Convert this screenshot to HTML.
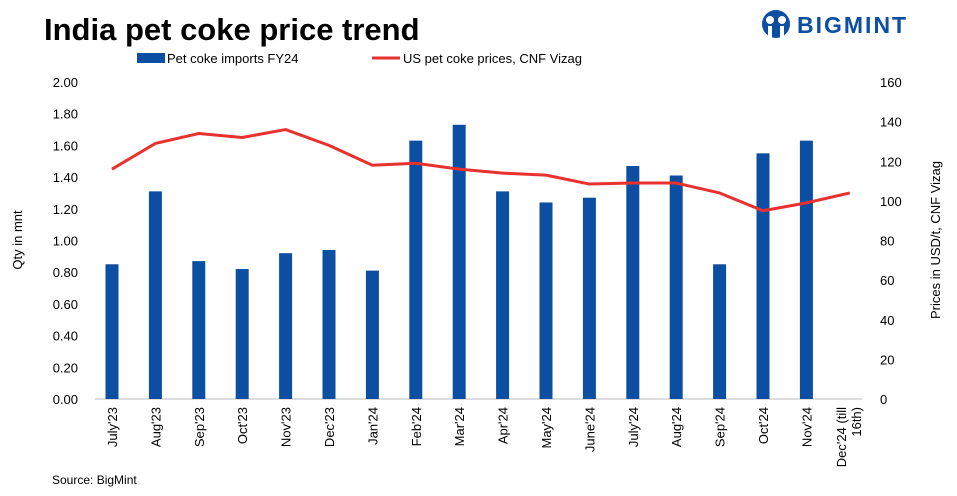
<!DOCTYPE html>
<html><head><meta charset="utf-8">
<style>
body{margin:0;background:#fff;font-family:"Liberation Sans",Arial,sans-serif;}
#wrap{position:relative;width:957px;height:496px;overflow:hidden;}
</style></head>
<body>
<div id="wrap">
<svg id="chart" width="957" height="496" xmlns="http://www.w3.org/2000/svg">
<text x="44" y="40" font-size="31" font-weight="bold" fill="#000">India pet coke price trend</text>
<g>
<circle cx="776" cy="24" r="14" fill="#0b4ea2"/>
<circle cx="770" cy="20" r="4" fill="#fff"/><circle cx="782" cy="20" r="4" fill="#fff"/>
<rect x="768" y="26" width="4" height="13" fill="#fff"/><rect x="780" y="26" width="4" height="13" fill="#fff"/>
<text x="797" y="33" font-size="23" font-weight="bold" fill="#0b4ea2" letter-spacing="2">BIGMINT</text>
</g>
<g>
<rect x="137" y="53" width="28" height="10" fill="#0b4ea2"/>
<text x="167" y="63" font-size="13">Pet coke imports FY24</text>
<line x1="372" y1="58" x2="400" y2="58" stroke="#e8322f" stroke-width="3"/>
<text x="403" y="63" font-size="13">US pet coke prices, CNF Vizag</text>
</g>
<text transform="translate(22,240) rotate(-90)" text-anchor="middle" font-size="13">Qty in mnt</text>
<text transform="translate(940,240) rotate(-90)" text-anchor="middle" font-size="13">Prices in USD/t, CNF Vizag</text>
<g id="axes"></g><g id="bars"></g><g id="line"></g>
<text x="52" y="484" font-size="12">Source: BigMint</text>
</svg>
</div>
<script>
const categories=["July'23","Aug'23","Sep'23","Oct'23","Nov'23","Dec'23","Jan'24","Feb'24","Mar'24","Apr'24","May'24","June'24","July'24","Aug'24","Sep'24","Oct'24","Nov'24","Dec'24 (till 16th)"];
const imports=[0.85,1.31,0.87,0.82,0.92,0.94,0.81,1.63,1.73,1.31,1.24,1.27,1.47,1.41,0.85,1.55,1.63,null];
const prices=[116,129,134,132,136,128,118,119,116,114,113,108.5,109,109,104,95,99,104];
const leftTicks=[0,0.2,0.4,0.6,0.8,1.0,1.2,1.4,1.6,1.8,2.0];
const rightTicks=[0,20,40,60,80,100,120,140,160];
const NS="http://www.w3.org/2000/svg";
const x0=95,x1=862,yb=399,yt=82;
const step=43.4;
const xs=i=>112+step*i;
const yl=v=>yb-(v/2)*(yb-yt);
const yr=v=>yb-(v/160)*(yb-yt);
function mk(t,a,p){const e=document.createElementNS(NS,t);for(const k in a)e.setAttribute(k,a[k]);p.appendChild(e);return e;}
const axes=document.getElementById('axes');
const base=mk('line',{x1:x0,x2:x1,y1:yb,y2:yb,stroke:'#bbb'},axes);


leftTicks.forEach(v=>{const t=mk('text',{x:78,y:yl(v)+5,'text-anchor':'end','font-size':13},axes);t.textContent=v.toFixed(2);

});
rightTicks.forEach(v=>{const t=mk('text',{x:880,y:yr(v)+5,'font-size':13},axes);t.textContent=v;

});
categories.forEach((c,i)=>{
 const x=xs(i);
 const t=mk('text',{transform:`translate(${x+5},407) rotate(-90)`,'text-anchor':'end','font-size':13},axes);
 if(c.indexOf('(')>0){const p=c.split(' (');
  const a=mk('tspan',{x:0,dy:-7},t);a.textContent=p[0]+' (till';
  const b=mk('tspan',{x:0,dy:15},t);b.textContent='16th)';
  t.setAttribute('transform',`translate(${x+3},407) rotate(-90)`);
 } else t.textContent=c;
 
 
});
const bars=document.getElementById('bars');
imports.forEach((v,i)=>{if(v==null)return;
 const r=mk('rect',{x:xs(i)-6.5,y:yl(v),width:13,height:yb-yl(v),fill:'#0b4ea2'},bars);
 
 });
const pts=prices.map((v,i)=>xs(i)+','+yr(v)).join(' ');
const pl=mk('polyline',{points:pts,fill:'none',stroke:'#e8322f','stroke-width':3,'stroke-linejoin':'round'},document.getElementById('line'));


</script>
</body></html>
